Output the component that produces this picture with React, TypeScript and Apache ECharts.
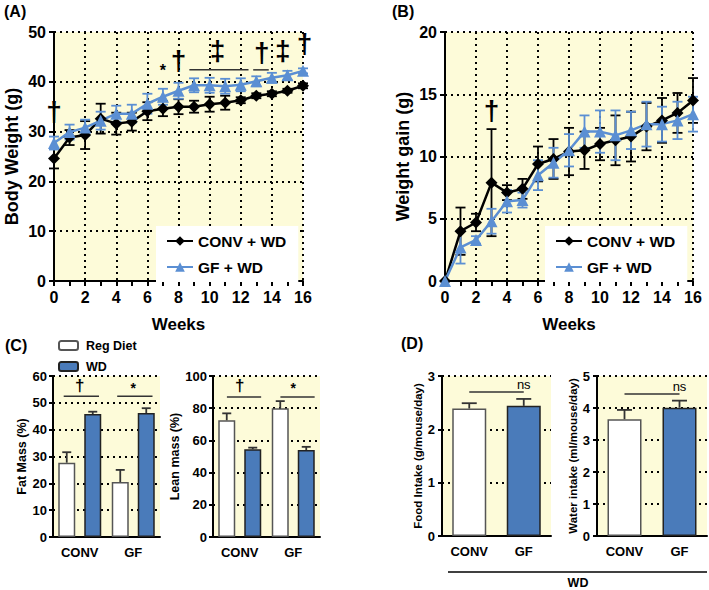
import React, { useEffect, useRef } from 'react';
import * as echarts from 'echarts';

// ---------- DATA ----------
const weeks = [0, 1, 2, 3, 4, 5, 6, 7, 8, 9, 10, 11, 12, 13, 14, 15, 16];
const convWeight = [24.6, 28.8, 29.3, 32.6, 31.6, 32.0, 34.1, 34.6, 35.0, 35.0, 35.5, 35.8, 36.3, 37.2, 37.6, 38.2, 39.2];
const convWeightErr = [2.0, 1.5, 2.8, 3.0, 2.2, 1.8, 1.8, 1.5, 1.5, 1.2, 1.5, 1.4, 0.6, 0.5, 0.5, 0.4, 0.5];
const gfWeight = [27.7, 29.9, 30.8, 32.2, 33.6, 33.6, 35.6, 37.0, 38.2, 39.3, 39.3, 39.1, 39.4, 40.1, 40.8, 41.3, 42.2];
const gfWeightErr = [1.3, 1.5, 1.6, 1.8, 1.6, 1.8, 2.0, 1.6, 1.6, 1.4, 1.5, 1.5, 1.3, 1.0, 1.0, 0.9, 0.5];

const convGain = [0, 4.0, 4.7, 7.9, 7.1, 7.4, 9.4, 9.8, 10.4, 10.5, 11.0, 11.3, 11.6, 12.4, 12.9, 13.5, 14.5];
const convGainErr = [0, 1.9, 0.7, 4.3, 0.6, 0.8, 1.4, 1.6, 1.9, 1.5, 1.3, 2.0, 2.0, 1.9, 1.8, 1.6, 1.8];
const gfGain = [0, 2.7, 3.3, 4.8, 6.4, 6.5, 8.5, 9.5, 10.5, 12.0, 12.0, 11.7, 12.1, 12.6, 12.6, 12.9, 13.4];
const gfGainErr = [0, 1.3, 0.3, 1.0, 0.9, 0.6, 1.2, 1.2, 1.3, 1.3, 1.7, 2.0, 1.5, 1.8, 1.4, 1.5, 1.4];

const groups = ['CONV', 'GF'];
const fatReg = [27.7, 20.5];
const fatRegErr = [3.9, 4.5];
const fatWd = [45.8, 46.2];
const fatWdErr = [0.9, 1.8];
const leanReg = [72.5, 80.0];
const leanRegErr = [4.3, 4.4];
const leanWd = [54.5, 54.0];
const leanWdErr = [1.0, 2.0];

const foodIntake = [2.39, 2.44];
const foodIntakeErr = [0.1, 0.13];
const waterIntake = [3.65, 4.01];
const waterIntakeErr = [0.29, 0.22];

// significance annotations
const weightSigLines = [[8.7, 12.5, 42.4], [12.8, 13.8, 42.4]];
const weightMarks = [[0, 34.0], [7, 42.3], [8, 44.2], [10.5, 46.2], [13.35, 45.8], [14.7, 46.2], [16.1, 47.6]];
const weightMarkLabels = ['†', '*', '†', '‡', '†', '‡', '†'];
const gainMarks = [[3, 13.7]];
const gainMarkLabels = ['†'];
const fatSig = [[0, 52.5], [1, 52.5]];
const fatMarks = [[0, 56.5], [1, 55.5]];
const leanSig = [[0, 87], [1, 87]];
const leanMarks = [[0, 94], [1, 92.5]];
const sigLabels = ['†', '*'];
const foodSig = [[0, 1, 2.7]];
const waterSig = [[0, 1, 4.44]];

// ---------- STYLE ----------
const FONT = "'Liberation Sans', Arial, Helvetica, sans-serif";
const YELLOW = '#fdfbd9';
const LINE_BLUE = '#5b8fd3';
const BAR_BLUE = '#4a7bba';
const BAR_W = 17;
const BAR_GAP = 9;
const BAR_OFF = (BAR_W + BAR_GAP) / 2;

const axisLine = { show: true, onZero: false, lineStyle: { color: '#000', width: 2 } };
const dotted = { show: true, lineStyle: { color: '#000', width: 2, type: [2, 4] } };
const tick = (len: number) => ({ show: true, length: len, lineStyle: { color: '#000', width: 2 } });
const lbl = (size: number, margin: number) => ({ color: '#000', fontSize: size, fontWeight: 'bold', fontFamily: FONT, margin });

function errSeries(name: string, xi: number, vals: number[], errs: number[], cap: number, color: string, upOnly: boolean, offset: number, xs?: number[]) {
  const data = vals.map((v, i) => [xs ? xs[i] : i, upOnly ? v : v - errs[i], v + errs[i]]).filter((d, i) => errs[i] > 0);
  return {
    type: 'custom', name, xAxisIndex: xi, yAxisIndex: xi, z: upOnly ? 5 : 1, silent: true,
    encode: { x: 0, y: [1, 2] },
    data,
    renderItem: (params: any, api: any) => {
      const x = api.value(0);
      const a = api.coord([x, api.value(1)]);
      const b = api.coord([x, api.value(2)]);
      const cx = a[0] + offset;
      const style = { stroke: color, lineWidth: 1.8 };
      const children: any[] = [
        { type: 'line', shape: { x1: cx, y1: a[1], x2: cx, y2: b[1] }, style },
        { type: 'line', shape: { x1: cx - cap, y1: b[1], x2: cx + cap, y2: b[1] }, style },
      ];
      if (!upOnly) children.push({ type: 'line', shape: { x1: cx - cap, y1: a[1], x2: cx + cap, y2: a[1] }, style });
      return { type: 'group', children };
    },
  };
}

function textSeries(name: string, xi: number, pts: number[][], labels: string[], sizeFor: (s: string) => number) {
  return {
    type: 'custom', name, xAxisIndex: xi, yAxisIndex: xi, z: 6, silent: true,
    encode: { x: 0, y: 1 },
    data: pts,
    clip: false,
    renderItem: (params: any, api: any) => {
      const p = api.coord([api.value(0), api.value(1)]);
      const t = labels[params.dataIndex];
      return {
        type: 'text', x: p[0], y: p[1],
        style: { text: t, fill: '#000', fontSize: sizeFor(t), fontWeight: t === 'ns' ? 'normal' : 'bold', fontFamily: FONT, align: 'center', verticalAlign: 'middle' },
      };
    },
  };
}

function lineSegSeries(name: string, xi: number, segs: number[][]) {
  return {
    type: 'custom', name, xAxisIndex: xi, yAxisIndex: xi, z: 6, silent: true,
    encode: { x: [0, 1], y: 2 },
    data: segs,
    renderItem: (params: any, api: any) => {
      const a = api.coord([api.value(0), api.value(2)]);
      const b = api.coord([api.value(1), api.value(2)]);
      return { type: 'line', shape: { x1: a[0], y1: a[1], x2: b[0], y2: b[1] }, style: { stroke: '#333', lineWidth: 1.5 } };
    },
  };
}

function catSigSeries(name: string, xi: number, pts: number[][], left: number, right: number) {
  return {
    type: 'custom', name, xAxisIndex: xi, yAxisIndex: xi, z: 6, silent: true,
    encode: { x: 0, y: 1 },
    data: pts,
    renderItem: (params: any, api: any) => {
      const p = api.coord([api.value(0), api.value(1)]);
      const bw = api.size([1, 0])[0];
      return { type: 'line', shape: { x1: p[0] + left * bw, y1: p[1], x2: p[0] + right * bw, y2: p[1] }, style: { stroke: '#333', lineWidth: 1.5 } };
    },
  };
}

const markSize = (s: string) => (s === '*' ? 16 : s === 'ns' ? 13 : 28);
const smallMarkSize = (s: string) => (s === '*' ? 14 : s === 'ns' ? 13 : 17);

function buildOption(): any {
  const grids = [
    { left: 54, top: 32, width: 249, height: 249 },
    { left: 445, top: 32, width: 248, height: 249 },
    { left: 53, top: 376, width: 107, height: 161 },
    { left: 213, top: 376, width: 107, height: 161 },
    { left: 442, top: 376, width: 109, height: 160 },
    { left: 597, top: 376, width: 110, height: 160 },
  ].map((g) => ({ ...g, show: true, backgroundColor: YELLOW, borderWidth: 0 }));

  const weekAxis = (gi: number) => ({
    gridIndex: gi, type: 'value', min: 0, max: 16, interval: 2,
    axisLine, axisTick: tick(5),
    minorTick: { show: true, splitNumber: 2, length: 5, lineStyle: { color: '#000', width: 2 } },
    axisLabel: lbl(16, 8), splitLine: dotted,
    name: 'Weeks', nameLocation: 'middle', nameGap: 35,
    nameTextStyle: { color: '#000', fontSize: 17, fontWeight: 'bold', fontFamily: FONT },
  });
  const catAxis = (gi: number) => ({
    gridIndex: gi, type: 'category', data: groups,
    axisLine, axisTick: { show: false }, axisLabel: lbl(13, 9), splitLine: { show: false },
  });
  const valAxis = (gi: number, max: number, interval: number, name: string, nameSize: number, nameGap: number, labelSize: number, margin: number, tickLen: number) => ({
    gridIndex: gi, type: 'value', min: 0, max, interval,
    axisLine, axisTick: tick(tickLen), axisLabel: lbl(labelSize, margin), splitLine: dotted,
    name, nameLocation: 'middle', nameGap,
    nameTextStyle: { color: '#000', fontSize: nameSize, fontWeight: 'bold', fontFamily: FONT },
  });

  const xAxis = [weekAxis(0), weekAxis(1), catAxis(2), catAxis(3), catAxis(4), catAxis(5)];
  const yAxis = [
    valAxis(0, 50, 10, 'Body Weight (g)', 18, 33, 16, 8, 5),
    valAxis(1, 20, 5, 'Weight gain (g)', 18, 33, 16, 8, 5),
    valAxis(2, 60, 10, 'Fat Mass (%)', 12.5, 24, 13, 6, 4),
    valAxis(3, 100, 20, 'Lean mass (%)', 12.5, 32, 13, 6, 4),
    valAxis(4, 3, 1, 'Food Intake (g/mouse/day)', 11.5, 18, 13, 7, 4),
    valAxis(5, 5, 1, 'Water intake (ml/mouse/day)', 11.5, 17, 13, 7, 4),
  ];

  const lineSeries = (gi: number, name: string, vals: number[], color: string, symbol: string) => ({
    type: 'line', name, xAxisIndex: gi, yAxisIndex: gi, z: 3,
    data: vals.map((v, i) => [weeks[i], v]),
    symbol, symbolSize: 12,
    lineStyle: { color, width: 2.5 }, itemStyle: { color },
  });

  const whiteBar = { color: '#fff', borderColor: '#555', borderWidth: 1.5 };
  const blueBar = { color: BAR_BLUE, borderColor: '#222', borderWidth: 1.5 };
  const barSeries = (gi: number, name: string, vals: number[], style: any) => ({
    type: 'bar', name, xAxisIndex: gi, yAxisIndex: gi, data: vals, barWidth: BAR_W, barGap: (BAR_GAP / BAR_W * 100) + '%', itemStyle: style, z: 2,
  });
  const singleBar = (gi: number, vals: number[]) => ({
    type: 'bar', name: 'Intake', xAxisIndex: gi, yAxisIndex: gi, barWidth: 34, z: 2,
    data: vals.map((v, i) => ({ value: v, itemStyle: i === 0 ? whiteBar : blueBar })),
  });

  const series: any[] = [
    // A
    errSeries('eA1', 0, convWeight, convWeightErr, 5, '#000', false, 0, weeks),
    errSeries('eA2', 0, gfWeight, gfWeightErr, 5, LINE_BLUE, false, 0, weeks),
    lineSeries(0, 'CONV + WD', convWeight, '#000', 'diamond'),
    lineSeries(0, 'GF + WD', gfWeight, LINE_BLUE, 'triangle'),
    lineSegSeries('sA', 0, weightSigLines),
    textSeries('tA', 0, weightMarks, weightMarkLabels, markSize),
    // B
    errSeries('eB1', 1, convGain, convGainErr, 5, '#000', false, 0, weeks),
    errSeries('eB2', 1, gfGain, gfGainErr, 5, LINE_BLUE, false, 0, weeks),
    lineSeries(1, 'CONV + WD', convGain, '#000', 'diamond'),
    lineSeries(1, 'GF + WD', gfGain, LINE_BLUE, 'triangle'),
    textSeries('tB', 1, gainMarks, gainMarkLabels, markSize),
    // C fat
    barSeries(2, 'Reg Diet', fatReg, whiteBar),
    barSeries(2, 'WD', fatWd, blueBar),
    errSeries('eC1', 2, fatReg, fatRegErr, 4.5, '#333', true, -BAR_OFF),
    errSeries('eC2', 2, fatWd, fatWdErr, 4.5, '#333', true, BAR_OFF),
    catSigSeries('sC1', 2, fatSig, -0.3, 0.36),
    textSeries('tC1', 2, fatMarks, sigLabels, smallMarkSize),
    // C lean
    barSeries(3, 'Reg Diet', leanReg, whiteBar),
    barSeries(3, 'WD', leanWd, blueBar),
    errSeries('eC3', 3, leanReg, leanRegErr, 4.5, '#333', true, -BAR_OFF),
    errSeries('eC4', 3, leanWd, leanWdErr, 4.5, '#333', true, BAR_OFF),
    catSigSeries('sC2', 3, leanSig, -0.24, 0.4),
    textSeries('tC2', 3, leanMarks, sigLabels, smallMarkSize),
    // D
    singleBar(4, foodIntake),
    errSeries('eD1', 4, foodIntake, foodIntakeErr, 7.5, '#333', true, 0),
    lineSegSeries('sD1', 4, foodSig),
    textSeries('tD1', 4, [[0.5, 2.84]], ['ns'], markSize),
    singleBar(5, waterIntake),
    errSeries('eD2', 5, waterIntake, waterIntakeErr, 7.5, '#333', true, 0),
    lineSegSeries('sD2', 5, waterSig),
    textSeries('tD2', 5, [[0.5, 4.66]], ['ns'], markSize),
  ];

  const legendText = { color: '#000', fontSize: 15.5, fontWeight: 'bold', fontFamily: FONT };
  const legend = [
    { data: ['CONV + WD', 'GF + WD'], left: 156, top: 226, orient: 'vertical', backgroundColor: '#fff', padding: [7, 12, 7, 10], itemGap: 10, itemWidth: 26, itemHeight: 12, textStyle: legendText, selectedMode: false },
    { data: ['CONV + WD', 'GF + WD'], left: 545, top: 226, orient: 'vertical', backgroundColor: '#fff', padding: [7, 12, 7, 10], itemGap: 10, itemWidth: 26, itemHeight: 12, textStyle: legendText, selectedMode: false },
    { data: ['Reg Diet', 'WD'], left: 56, top: 337, orient: 'vertical', padding: 2, itemGap: 8, itemWidth: 19, itemHeight: 9, textStyle: { ...legendText, fontSize: 12.5, padding: [0, 0, 0, 3] }, selectedMode: false },
  ];

  const hdr = (text: string, x: number, y: number) => ({ type: 'text', left: x, top: y, style: { text, fill: '#000', fontSize: 16, fontWeight: 'bold', fontFamily: FONT } });
  const graphic = [
    hdr('(A)', 4, 3), hdr('(B)', 392, 3), hdr('(C)', 5, 337), hdr('(D)', 401, 335),
    { type: 'line', shape: { x1: 448, y1: 572, x2: 707, y2: 572 }, style: { stroke: '#000', lineWidth: 1.5 } },
    { type: 'text', x: 578, y: 583, style: { text: 'WD', fill: '#000', fontSize: 12.5, fontWeight: 'bold', fontFamily: FONT, align: 'center', verticalAlign: 'middle' } },
  ];

  return { animation: false, backgroundColor: '#fff', textStyle: { fontFamily: FONT }, grid: grids, xAxis, yAxis, series, legend, graphic };
}

export default function App() {
  const ref = useRef<HTMLDivElement>(null);
  useEffect(() => {
    const chart = echarts.init(ref.current as HTMLDivElement, null, { renderer: 'svg' });
    chart.setOption(buildOption());
    return () => chart.dispose();
  }, []);
  return <div ref={ref} style={{ position: 'absolute', left: 0, top: 0, width: 709, height: 590, background: '#fff' }} />;
}
